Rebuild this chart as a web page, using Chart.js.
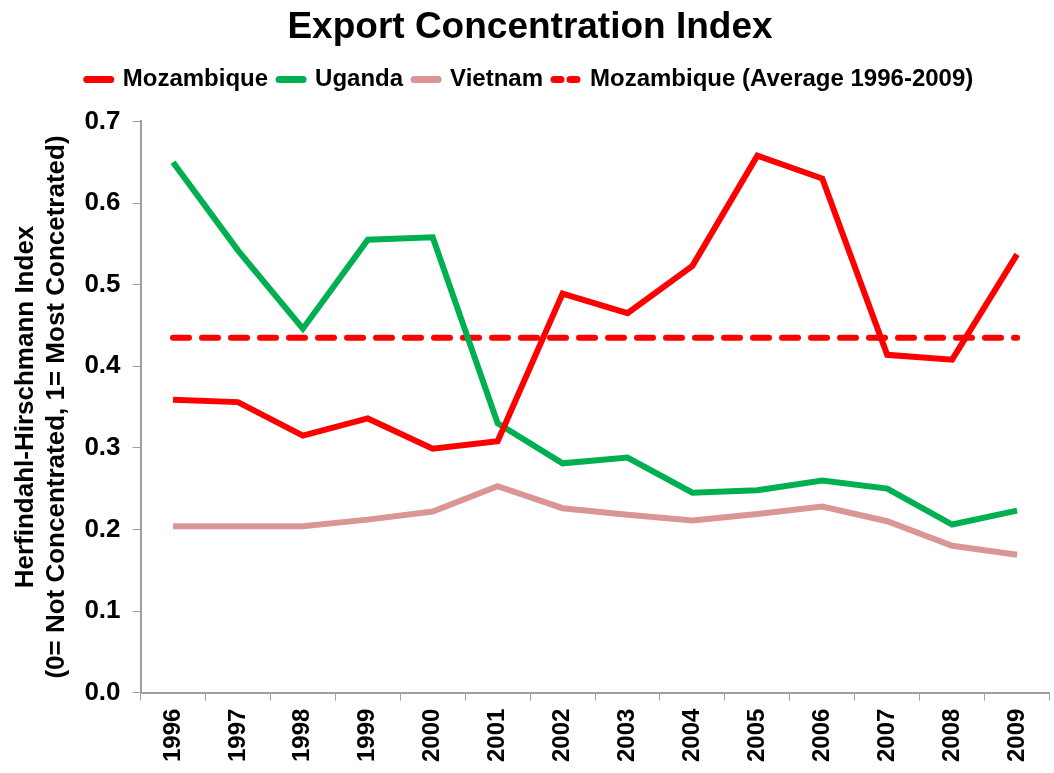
<!DOCTYPE html>
<html lang="en">
<head>
    <meta charset="UTF-8">
    <title>Export Concentration Index</title>
    <script src="https://cdn.jsdelivr.net/npm/chart.js"></script>
    <style>
        body{
            margin: 0;
            background: #fff;
        }
        #wrap{
            width: 1054px;
            height: 773px;
        }
    </style>
</head>
<body>
    <div id="wrap"><canvas id="exportChart"></canvas></div>

    <script>
        const years = ['1996', '1997', '1998', '1999', '2000', '2001', '2002', '2003', '2004', '2005', '2006', '2007', '2008', '2009'];
        const mozambique = [0.359, 0.356, 0.315, 0.336, 0.299, 0.308, 0.489, 0.465, 0.523, 0.658, 0.630, 0.414, 0.408, 0.537];
        const uganda = [0.650, 0.542, 0.446, 0.555, 0.558, 0.330, 0.281, 0.288, 0.245, 0.248, 0.260, 0.250, 0.206, 0.223];
        const vietnam = [0.204, 0.204, 0.204, 0.212, 0.222, 0.253, 0.226, 0.218, 0.211, 0.219, 0.228, 0.210, 0.180, 0.169];
        const mozambiqueAvg = 0.435;

        const font = 'Liberation Sans, Arial, sans-serif';

        // extra room under the legend, like the original
        const legendGap = {
            id: 'legendGap',
            beforeInit(chart) {
                const fit = chart.legend.fit;
                chart.legend.fit = function() {
                    fit.bind(chart.legend)();
                    this.height += 20;
                };
            }
        };

        const ctx = document.getElementById('exportChart').getContext('2d');
        const exportChart = new Chart(ctx, {
            type: 'line',
            data: {
                labels: years,
                datasets: [
                    {
                        label: 'Mozambique',
                        data: mozambique,
                        borderColor: '#ff0000',
                        backgroundColor: '#ff0000',
                        borderWidth: 6,
                        pointRadius: 0,
                        tension: 0
                    },
                    {
                        label: 'Uganda',
                        data: uganda,
                        borderColor: '#00b050',
                        backgroundColor: '#00b050',
                        borderWidth: 6,
                        pointRadius: 0,
                        tension: 0
                    },
                    {
                        label: 'Vietnam',
                        data: vietnam,
                        borderColor: '#d99694',
                        backgroundColor: '#d99694',
                        borderWidth: 6,
                        pointRadius: 0,
                        tension: 0
                    },
                    {
                        label: 'Mozambique (Average 1996-2009)',
                        data: years.map(() => mozambiqueAvg),
                        borderColor: '#ff0000',
                        backgroundColor: '#ff0000',
                        borderWidth: 6,
                        borderDash: [16, 13],
                        borderCapStyle: 'round',
                        pointRadius: 0
                    }
                ]
            },
            options: {
                responsive: true,
                maintainAspectRatio: false,
                animation: false,
                layout: {
                    padding: { left: 10, right: 4, top: 2, bottom: 3 }
                },
                plugins: {
                    title: {
                        display: true,
                        text: 'Export Concentration Index',
                        color: '#000',
                        font: { family: font, size: 37, weight: 'bold' },
                        padding: { top: 4, bottom: 6 }
                    },
                    legend: {
                        position: 'top',
                        labels: {
                            color: '#000',
                            usePointStyle: true,
                            pointStyleWidth: 24,
                            padding: 11,
                            font: { family: font, size: 24, weight: 'bold' },
                            generateLabels: chart => Chart.defaults.plugins.legend.labels.generateLabels(chart).map((item, i) => {
                                const ds = chart.data.datasets[i];
                                item.pointStyle = 'line';
                                item.lineWidth = 7;
                                item.lineCap = 'round';
                                item.lineDash = ds.borderDash ? [7, 9] : [];
                                item.strokeStyle = ds.borderColor;
                                return item;
                            })
                        }
                    },
                    tooltip: { enabled: false }
                },
                scales: {
                    x: {
                        offset: true,
                        grid: {
                            display: true,
                            offset: true,
                            drawOnChartArea: false,
                            drawTicks: true,
                            tickLength: 8,
                            color: '#a0a0a0'
                        },
                        border: { color: '#a0a0a0', width: 2 },
                        ticks: {
                            color: '#000',
                            minRotation: 90,
                            maxRotation: 90,
                            padding: 8,
                            font: { family: font, size: 24, weight: 'bold' }
                        }
                    },
                    y: {
                        min: 0,
                        max: 0.7,
                        grid: {
                            display: true,
                            drawOnChartArea: false,
                            drawTicks: true,
                            tickLength: 8,
                            color: '#a0a0a0'
                        },
                        border: { color: '#a0a0a0', width: 2 },
                        ticks: {
                            stepSize: 0.1,
                            color: '#000',
                            padding: 12,
                            font: { family: font, size: 26, weight: 'bold' },
                            callback: v => v.toFixed(1)
                        },
                        title: {
                            display: true,
                            text: ['Herfindahl-Hirschmann Index', '(0= Not Concentrated, 1= Most Concetrated)'],
                            color: '#000',
                            padding: 0,
                            font: { family: font, size: 26, weight: 'bold', lineHeight: 1.2 }
                        }
                    }
                }
            },
            plugins: [legendGap]
        });
    </script>
</body>
</html>
